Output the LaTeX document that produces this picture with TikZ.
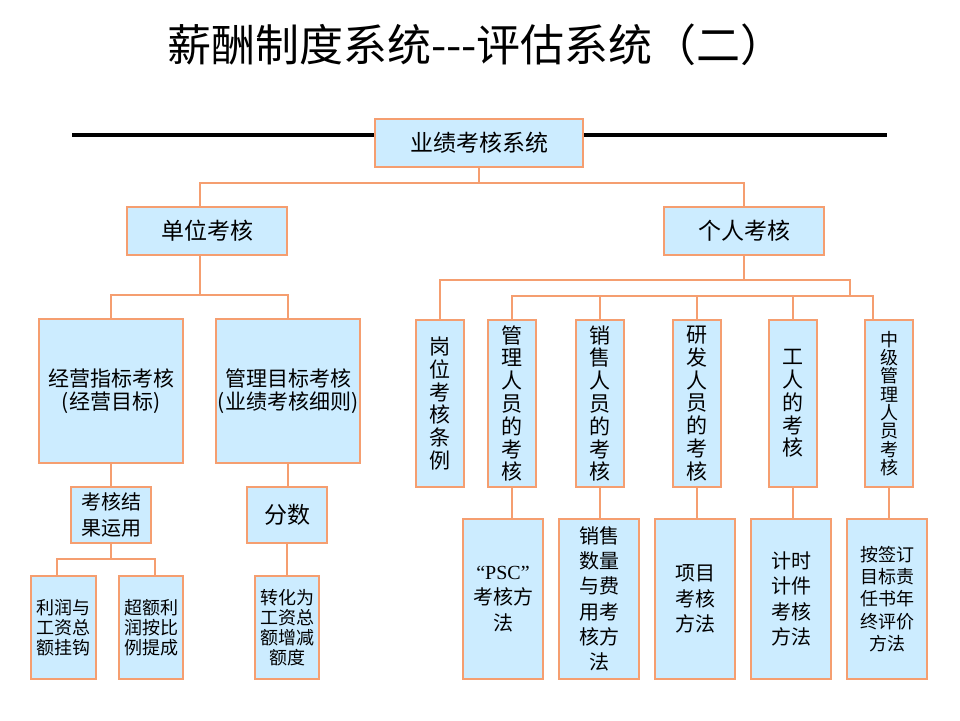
\documentclass[tikz,border=0pt]{standalone}
\usepackage{fontspec}
\setmainfont{Noto Sans CJK SC}
\newfontfamily\latinserif{Liberation Serif}
\definecolor{boxfill}{RGB}{204,236,255}
\definecolor{boxline}{RGB}{245,158,112}
\tikzset{
  box/.style={draw=boxline, fill=boxfill, line width=1.3pt, inner sep=0pt, align=center, text=black},
  link/.style={draw=boxline, line width=1.3pt},
  fA/.style={font={\fontsize{23}{27}\selectfont}},
  fB/.style={font={\fontsize{21}{23}\selectfont}},
  fV/.style={font={\fontsize{21}{22.8}\selectfont}},
  fVs/.style={font={\fontsize{18}{18.3}\selectfont}},
  fC/.style={font={\fontsize{20}{25.3}\selectfont}},
  fD/.style={font={\fontsize{18}{20}\selectfont}},
  fE/.style={font={\fontsize{18}{22.3}\selectfont}},
  colbox/.style={box, fV, minimum width=48pt, minimum height=167pt},
  botbox/.style={box, fC, minimum width=80pt, minimum height=160pt},
  smallbox/.style={box, fD, minimum width=64pt, minimum height=103pt}
}
\begin{document}
\begin{tikzpicture}[x=1pt,y=-1pt]
\useasboundingbox (0,0) rectangle (960,720);
% title
\node[font={\fontsize{44}{48}\selectfont}] (title) at (476,45) {薪酬制度系统-{}-{}-评估系统（二）};
% thick rule
\coordinate (ruleL) at (72,135);
\coordinate (ruleR) at (887,135);
\draw[line width=4pt, black] (ruleL) -- (ruleR);
% level 0
\node[box, fA, minimum width=208pt, minimum height=48pt] (top) at (479,143) {业绩考核系统};
% level 1
\node[box, fA, minimum width=160pt, minimum height=48pt] (dw) at (207,231) {单位考核};
\node[box, fA, minimum width=160pt, minimum height=48pt] (gr) at (744,231) {个人考核};
% left level 2
\node[box, fB, minimum width=144pt, minimum height=144pt] (jy) at (111,391) {经营指标考核\\(经营目标)};
\node[box, fB, minimum width=144pt, minimum height=144pt] (gm) at (288,391) {管理目标考核\\(业绩考核细则)};
% left level 3
\node[box, fC, minimum width=80pt, minimum height=56pt] (kh) at (111,515) {考核结\\果运用};
\node[box, fA, minimum width=80pt, minimum height=56pt] (fs) at (287,515) {分数};
% left level 4
\node[smallbox, minimum width=65pt] (lr) at (63.5,627.5) {利润与\\工资总\\额挂钩};
\node[smallbox] (ce) at (151,627.5) {超额利\\润按比\\例提成};
\node[smallbox] (zh) at (287,627.5) {转化为\\工资总\\额增减\\额度};
% right level 2
\node[colbox] (gw) at (440,403.5) {岗\\位\\考\\核\\条\\例};
\node[colbox] (gl) at (512,403.5) {管\\理\\人\\员\\的\\考\\核};
\node[colbox] (xs) at (600,403.5) {销\\售\\人\\员\\的\\考\\核};
\node[colbox] (yf) at (697,403.5) {研\\发\\人\\员\\的\\考\\核};
\node[colbox] (gg) at (793,403.5) {工\\人\\的\\考\\核};
\node[colbox, fVs] (zj) at (889,403.5) {中\\级\\管\\理\\人\\员\\考\\核};
% right level 3
\node[botbox] (psc) at (503,599) {{\latinserif “PSC”}\\考核方\\法};
\node[botbox] (xsf) at (599,599) {销售\\数量\\与费\\用考\\核方\\法};
\node[botbox] (xm) at (695,599) {项目\\考核\\方法};
\node[botbox] (js) at (791,599) {计时\\计件\\考核\\方法};
\node[botbox, fE] (aq) at (887,599) {按签订\\目标责\\任书年\\终评价\\方法};
% junction coordinates
\coordinate (j1) at (200,183);
\coordinate (j2) at (200,295);
\coordinate (r1) at (440,280);
\coordinate (r2) at (850,296);
\coordinate (r3) at (873,296);
\coordinate (k1) at (57,559);
\coordinate (k2) at (155,559);
% connectors level 0 -> 1
\draw[link] (top.south) |- (j1) -- (j1 |- dw.north);
\draw[link] (top.south |- j1) -| (gr.north);
% left
\draw[link] (j1 |- dw.south) -- (j2);
\draw[link] (jy.north) |- (gm.north |- j2) -- (gm.north);
\draw[link] (jy.south) -- (kh.north);
\draw[link] (gm.south) -- (gm.south |- fs.north);
\draw[link] (kh.south) -- (kh.south |- k1);
\draw[link] (k1 |- lr.north) -- (k1) -- (k2) -- (k2 |- ce.north);
\draw[link] (fs.south) -- (zh.north);
% right
\draw[link] (gr.south) -- (gr.south |- r1);
\draw[link] (gw.north) |- (r2 |- r1) -- (r2);
\draw[link] (gl.north) |- (r3) -- (r3 |- zj.north);
\draw[link] (xs.north) -- (xs.north |- r2);
\draw[link] (yf.north) -- (yf.north |- r2);
\draw[link] (gg.north) -- (gg.north |- r2);
\draw[link] (gl.south) -- (gl.south |- psc.north);
\draw[link] (xs.south) -- (xs.south |- xsf.north);
\draw[link] (yf.south) -- (yf.south |- xm.north);
\draw[link] (gg.south) -- (gg.south |- js.north);
\draw[link] (zj.south) -- (zj.south |- aq.north);
\end{tikzpicture}
\end{document}
